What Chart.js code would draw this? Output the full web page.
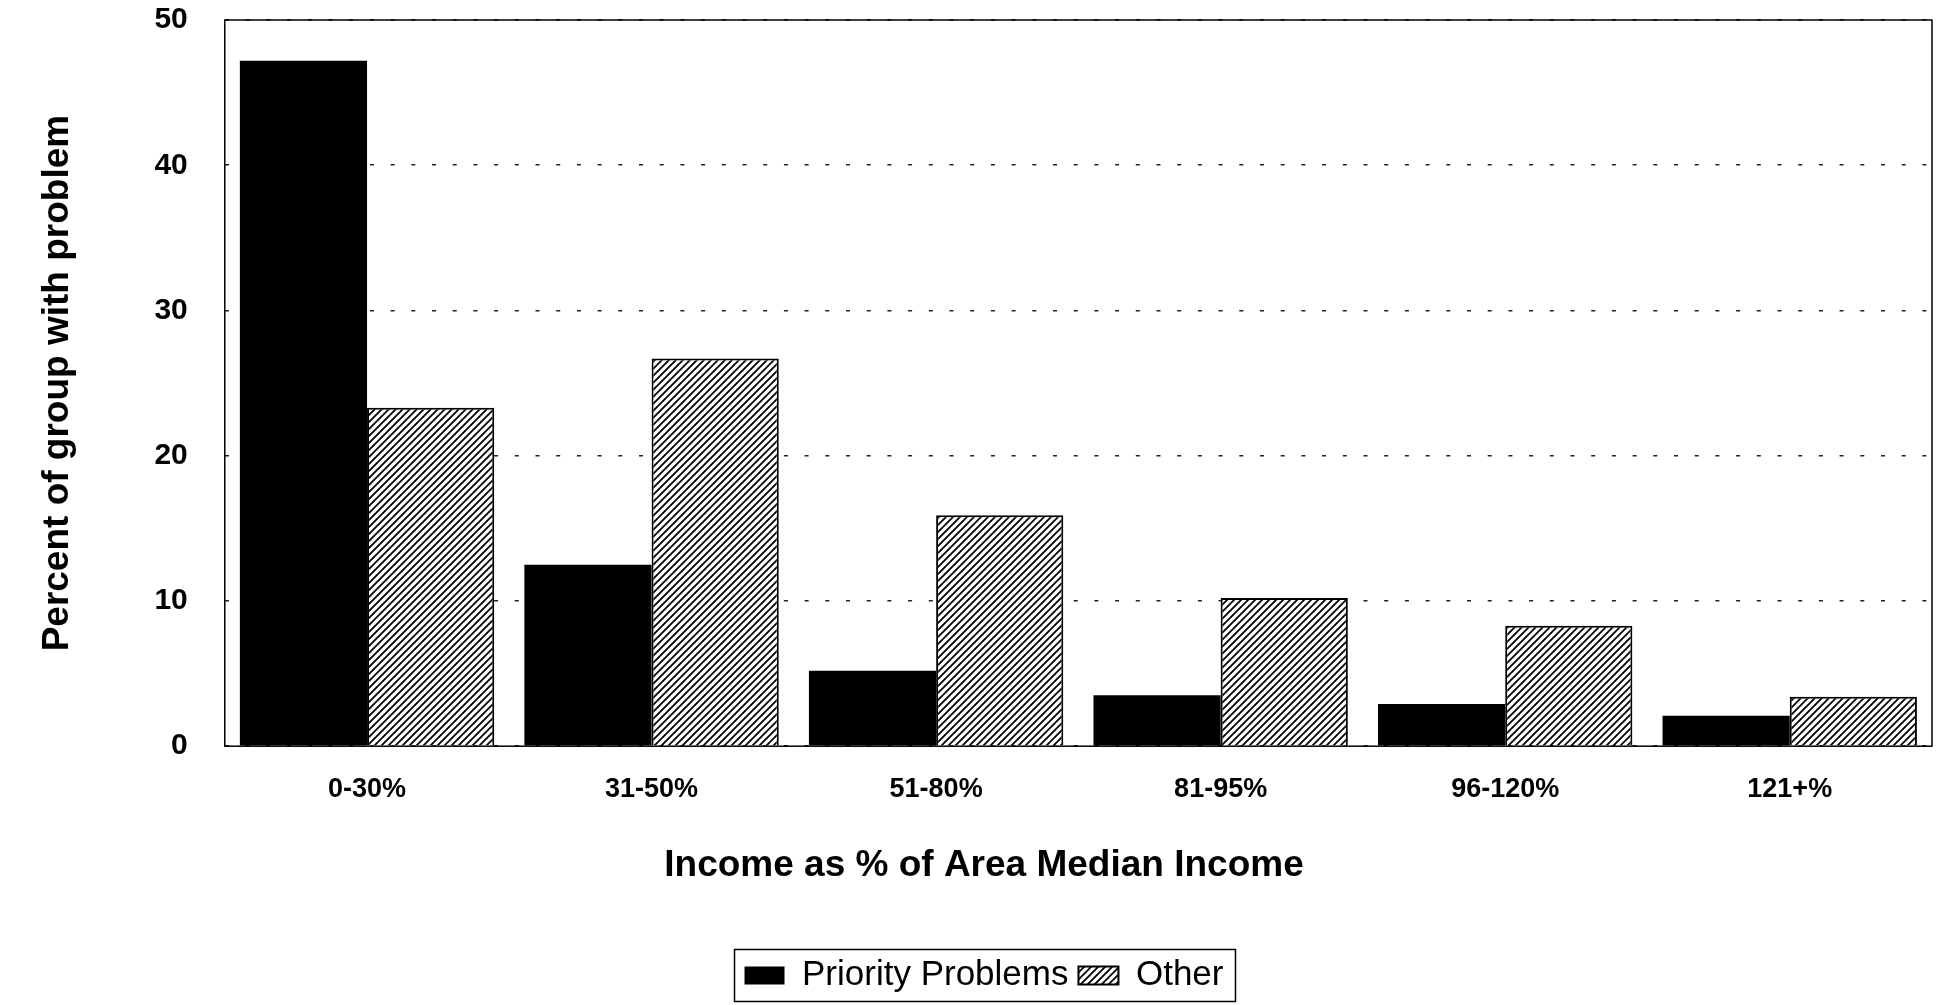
<!DOCTYPE html>
<html lang="en">
<head>
  <meta charset="UTF-8">
  <title>Priority problems by income</title>
  <script src="https://cdn.jsdelivr.net/npm/chart.js"></script>
  <style>
    html, body { margin: 0; padding: 0; background: #fff; }
    #wrap { width: 1940px; height: 1005px; }
  </style>
</head>
<body>

  <div id="wrap"><canvas id="graph"></canvas></div>

  <script>
    // data
    const categories = ['0-30%', '31-50%', '51-80%', '81-95%', '96-120%', '121+%'];
    const priorityProblems = [47.2, 12.5, 5.2, 3.5, 2.9, 2.1];
    const otherProblems = [23.3, 26.7, 15.9, 10.2, 8.3, 3.4];
    const yTicks = [0, 10, 20, 30, 40, 50];

    const fontFamily = '"Liberation Sans", Arial, Helvetica, sans-serif';

    // diagonal hatch ///
    function makeHatch() {
      const c = document.createElement('canvas');
      c.width = 7; c.height = 7;
      const g = c.getContext('2d');
      g.fillStyle = '#fff';
      g.fillRect(0, 0, 7, 7);
      g.strokeStyle = '#000';
      g.lineWidth = 1.8;
      g.beginPath();
      g.moveTo(-1, 8); g.lineTo(8, -1);
      g.moveTo(-1, 1); g.lineTo(1, -1);
      g.moveTo(6, 8); g.lineTo(8, 6);
      g.stroke();
      return g.createPattern(c, 'repeat');
    }
    const hatch = makeHatch();

    // box round the plot and round the legend
    const frames = {
      id: 'frames',
      afterDatasetsDraw(chart) {
        const { ctx, chartArea: a } = chart;
        ctx.save();
        ctx.strokeStyle = '#000';
        ctx.lineWidth = 1.5;
        ctx.strokeRect(a.left, a.top, a.right - a.left, a.bottom - a.top);
        ctx.restore();
      },
      afterDraw(chart) {
        const boxes = chart.legend && chart.legend.legendHitBoxes;
        if (!boxes || !boxes.length) return;
        const first = boxes[0], last = boxes[boxes.length - 1];
        const cy = first.top + first.height / 2;
        const ctx = chart.ctx;
        ctx.save();
        ctx.strokeStyle = '#000';
        ctx.lineWidth = 1.5;
        ctx.strokeRect(first.left - 10, cy - 26, last.left + last.width + 12 - (first.left - 10), 52);
        ctx.restore();
      }
    };

    const ctx = document.getElementById('graph').getContext('2d');
    new Chart(ctx, {
      type: 'bar',
      data: {
        labels: categories,
        datasets: [
          {
            label: 'Priority Problems',
            data: priorityProblems,
            backgroundColor: '#000',
            borderColor: '#000',
            borderWidth: 0
          },
          {
            label: 'Other',
            data: otherProblems,
            backgroundColor: hatch,
            borderColor: '#000',
            borderWidth: 2
          }
        ]
      },
      plugins: [frames],
      options: {
        responsive: true,
        maintainAspectRatio: false,
        animation: false,
        datasets: { bar: { barPercentage: 1.0, categoryPercentage: 0.894 } },
        layout: { padding: { left: 36, right: 8, top: 20, bottom: 2 } },
        plugins: {
          tooltip: { enabled: false },
          legend: {
            position: 'bottom',
            labels: {
              color: '#000',
              font: { family: fontFamily, size: 35 },
              boxWidth: 40,
              boxHeight: 18,
              padding: 10
            }
          },
          title: {
            display: true,
            position: 'bottom',
            weight: 500,
            text: 'Income as % of Area Median Income',
            color: '#000',
            font: { family: fontFamily, size: 37, weight: 'bold' },
            padding: { top: 11, bottom: 60 }
          }
        },
        scales: {
          x: {
            grid: { display: false, drawTicks: false },
            border: { display: false },
            ticks: {
              color: '#000',
              padding: 27,
              font: { family: fontFamily, size: 27, weight: 'bold' }
            }
          },
          y: {
            min: 0,
            max: 50,
            afterBuildTicks(axis) {
              axis.ticks = yTicks.map(v => ({ value: v }));
            },
            grid: {
              color: '#222',
              lineWidth: 1.5,
              drawTicks: true,
              tickLength: 35,
              tickColor: 'rgba(0,0,0,0)'
            },
            border: { display: false, dash: [4, 16.7] },
            ticks: {
              color: '#000',
              padding: 2,
              font: { family: fontFamily, size: 30, weight: 'bold' }
            },
            title: {
              display: true,
              text: 'Percent of group with problem',
              color: '#000',
              font: { family: fontFamily, size: 37, weight: 'bold' },
              padding: { top: 0, bottom: 72 }
            }
          }
        }
      }
    });
  </script>

</body>
</html>
